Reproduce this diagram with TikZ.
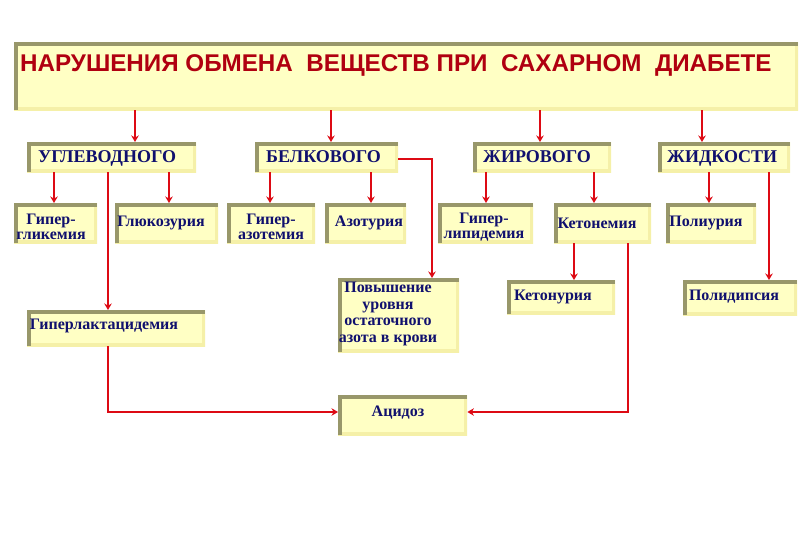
\documentclass[tikz,border=0pt]{standalone}
\usepackage{fontspec}
\setmainfont{Liberation Serif}
\newfontfamily\titlefont{Liberation Sans}
\usetikzlibrary{arrows.meta}
\definecolor{boxfill}{HTML}{FFFFC4}
\definecolor{bevdark}{HTML}{98976A}
\definecolor{bevlight}{HTML}{F5F0A8}
\definecolor{txtblue}{HTML}{10106E}
\definecolor{ttlred}{HTML}{B00010}
\definecolor{arrred}{HTML}{DD0A14}
\newcommand\mkbox[5]{%
  \pgfmathsetmacro\bw{#4-#2}\pgfmathsetmacro\bh{#5-#3}%
  \node[box, minimum width=\bw pt, minimum height=\bh pt] (#1) at (#2,#3) {};}
\begin{document}
\begin{tikzpicture}[x=1pt,y=-1pt,
  box/.style={fill=boxfill, inner sep=0pt, anchor=north west, path picture={
    \draw[bevlight, line width=6pt] (path picture bounding box.north east) |- (path picture bounding box.south west);
    \draw[bevdark, line width=7pt] (path picture bounding box.south west) |- (path picture bounding box.north east);}},
  lbl/.style={text=txtblue, font=\fontsize{16}{15}\selectfont\bfseries, align=center, inner sep=0pt},
  cat/.style={text=txtblue, font=\fontsize{18}{20}\selectfont\bfseries, anchor=base west, inner sep=0pt},
  arr/.style={draw=arrred, line width=2.5pt, -{Stealth[length=6.5pt,width=7.5pt]}},
]
\useasboundingbox[fill=white] (0,0) rectangle (810,540);
% title
\mkbox{ttlbox}{14}{42}{798}{110}
\node[anchor=base west, inner sep=0pt, text=ttlred, font=\titlefont\fontsize{24.2}{26}\selectfont\bfseries] (ttl) at (20,72) {НАРУШЕНИЯ ОБМЕНА\ \ ВЕЩЕСТВ ПРИ\ \ САХАРНОМ\ \ ДИАБЕТЕ};
% categories
\mkbox{ug}{27}{142}{196}{172}
\node[cat] (ugt) at (38,163) {УГЛЕВОДНОГО};
\mkbox{bel}{255}{142}{398}{172}
\node[cat] (belt) at (266,163) {БЕЛКОВОГО};
\mkbox{zhir}{473}{142}{611}{172}
\node[cat] (zhirt) at (483,162) {ЖИРОВОГО};
\mkbox{zhid}{658}{142}{790}{172}
\node[cat] (zhidt) at (667,162) {ЖИДКОСТИ};
% level 2
\mkbox{gglik}{14}{203}{97}{243}
\node[lbl] (gglikt) at (51,227) {Гипер-\\гликемия};
\mkbox{glyuk}{115}{203}{218}{243}
\node[lbl] (glyukt) at (161,223) {Глюкозурия};
\mkbox{gazot}{227}{203}{315}{243}
\node[lbl] (gazott) at (271,227) {Гипер-\\азотемия};
\mkbox{azot}{325}{203}{406}{243}
\node[lbl] (azott) at (369,223) {Азотурия};
\mkbox{glip}{438}{203}{533}{243}
\node[lbl] (glipt) at (484,227) {Гипер-\\липидемия};
\mkbox{ketem}{554}{203}{651}{243}
\node[lbl] (ketemt) at (597,223) {Кетонемия};
\mkbox{poliur}{666}{203}{756}{243}
\node[lbl] (poliurt) at (706,223) {Полиурия};
% level 3
\mkbox{lakt}{27}{310}{205}{346}
\node[lbl] (laktt) at (104,326) {Гиперлактацидемия};
\mkbox{pov}{338}{278}{459}{352}
\node[lbl, font=\fontsize{16}{16.5}\selectfont\bfseries] (povt) at (388,314) {Повышение\\уровня\\остаточного\\азота в крови};
\mkbox{keton}{507}{280}{615}{314}
\node[lbl] (ketont) at (553,297) {Кетонурия};
\mkbox{polid}{683}{280}{797}{315}
\node[lbl] (polidt) at (734,297) {Полидипсия};
\mkbox{acid}{338}{395}{467}{435}
\node[lbl] (acidt) at (398,413) {Ацидоз};
% connectors
\draw[arr] (ttlbox.south -| 135,0) -- (ug.north -| 135,0);
\draw[arr] (ttlbox.south -| 331,0) -- (bel.north -| 331,0);
\draw[arr] (ttlbox.south -| 540,0) -- (zhir.north -| 540,0);
\draw[arr] (ttlbox.south -| 702,0) -- (zhid.north -| 702,0);
\draw[arr] (ug.south -| 54,0) -- (gglik.north -| 54,0);
\draw[arr] (ug.south -| 169,0) -- (glyuk.north -| 169,0);
\draw[arr] (ug.south -| 108,0) -- (lakt.north -| 108,0);
\draw[arr] (bel.south -| 270,0) -- (gazot.north -| 270,0);
\draw[arr] (bel.south -| 371,0) -- (azot.north -| 371,0);
\draw[arr] (bel.east |- 0,159) -| (pov.north -| 432,0);
\draw[arr] (zhir.south -| 486,0) -- (glip.north -| 486,0);
\draw[arr] (zhir.south -| 594,0) -- (ketem.north -| 594,0);
\draw[arr] (zhid.south -| 709,0) -- (poliur.north -| 709,0);
\draw[arr] (zhid.south -| 769,0) -- (polid.north -| 769,0);
\draw[arr] (ketem.south -| 574,0) -- (keton.north -| 574,0);
\draw[arr] (ketem.south -| 628,0) |- (acid.east |- 0,412);
\draw[arr] (lakt.south -| 108,0) |- (acid.west |- 0,412);
\end{tikzpicture}
\end{document}
